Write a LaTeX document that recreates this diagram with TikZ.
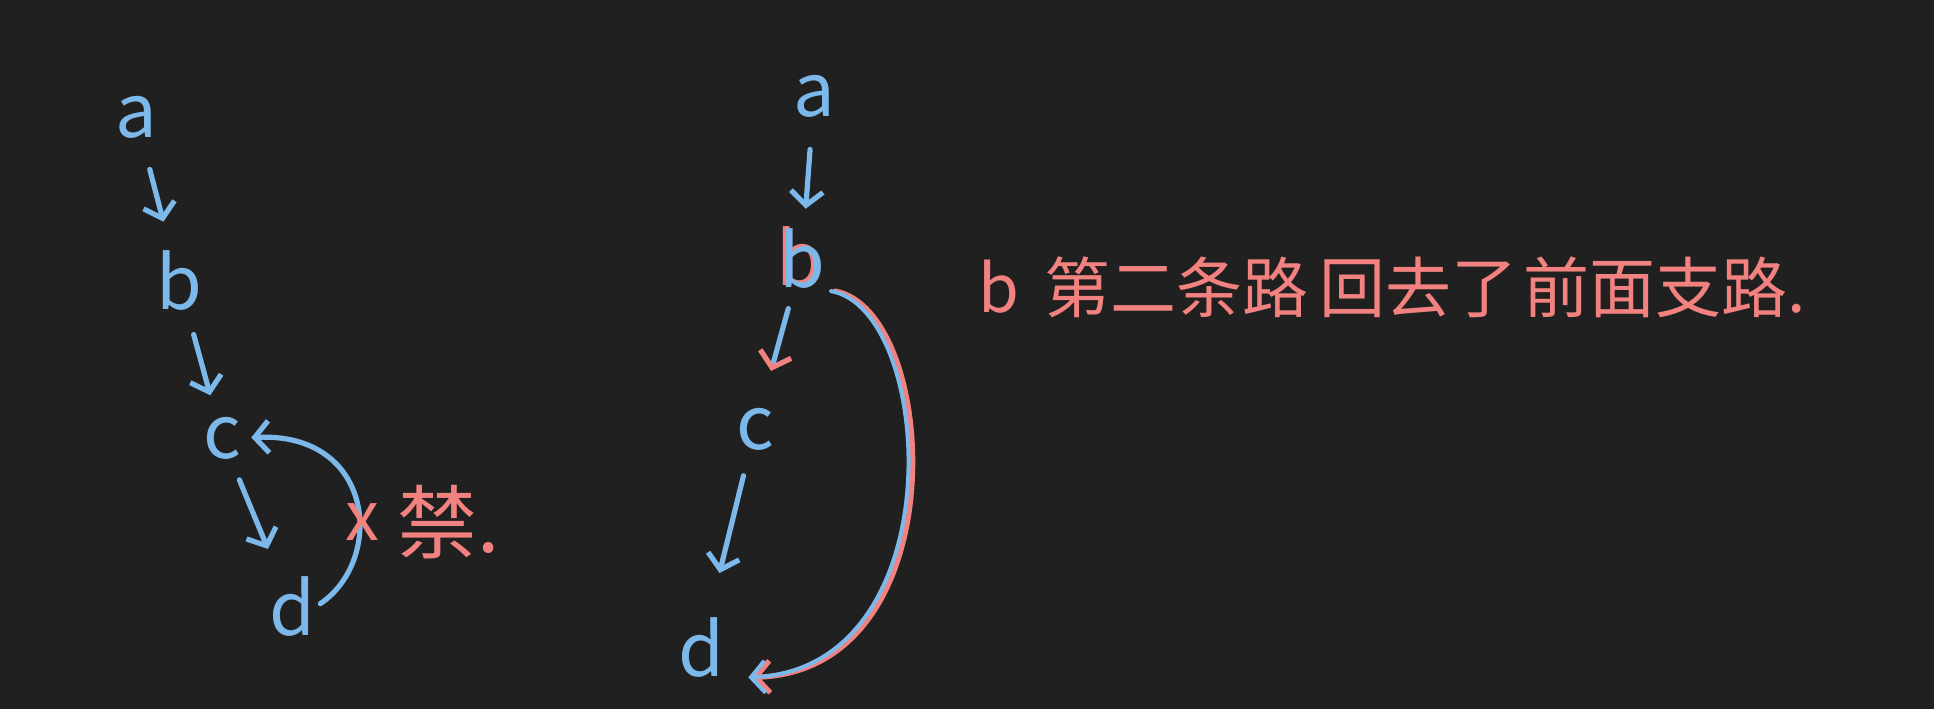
\documentclass[tikz,border=0pt]{standalone}
\usepackage{fontspec}
\usepackage{tikz}
\usetikzlibrary{arrows.meta,positioning}
\newfontfamily\hand{Noto Sans CJK SC}
\definecolor{board}{RGB}{33,32,32}
\definecolor{penblue}{RGB}{125,184,234}
\definecolor{penred}{RGB}{242,130,128}
\tikzset{
  letter/.style={text=penblue, font=\hand\fontsize{37}{42}\selectfont, inner sep=0pt},
  redletter/.style={letter, text=penred},
  note/.style={text=penred, font=\hand\fontsize{33}{38}\selectfont, inner sep=0pt},
  flow/.style={draw=penblue, line width=2.6pt, line cap=round, line join=round, -{Straight Barb[length=7pt,width=16pt]}},
  redflow/.style={flow, draw=penred}
}

\begin{document}
\begin{tikzpicture}[x=0.5pt, y=-0.5pt]
\fill[board] (0,0) rectangle (1934,709);
\useasboundingbox (0,0) rectangle (1934,709);

% left chain, d back to c
\node[letter] (la) at (136,117) {a};
\node[letter] (lb) at (179,281) {b};
\node[letter] (lc) at (222,438) {c};
\node[letter] (ld) at (292,607) {d};
\draw[flow, shorten <=16pt, shorten >=15pt] (la) -- (lb);
\draw[flow, shorten <=12pt, shorten >=11pt] (lb) -- (lc);
\draw[flow, shorten <=11pt, shorten >=15pt] (lc) -- (ld);
\draw[flow, shorten <=3pt, shorten >=5pt] (ld.east) .. controls (385,560) and (375,432) .. (lc.east);
\node[note, font=\hand\fontsize{34}{38}\selectfont] (cross) at (362,522) {x};
\node[note, font=\hand\fontsize{40}{44}\selectfont, right=9pt of cross] (ban) {禁.};

% right chain, b straight to d
\node[letter] (ra) at (814,96) {a};
\node[redletter] (rbred) at (799,257) {b};
\node[letter] (rb) at (802,259) {b};
\node[letter] (rc) at (755,429) {c};
\node[letter] (rd) at (701,648) {d};
\draw[flow, shorten <=16pt, shorten >=10pt] (ra) -- (rb);
\draw[flow, -{Straight Barb[length=7pt,width=16pt,color=penred]}, shorten <=10pt, shorten >=19pt] (rb) -- (rc);
\draw[flow, shorten <=13pt, shorten >=23pt] (rc) -- (rd);
\draw[redflow, shorten <=5pt, shorten >=14pt] (rb.south east) .. controls (940,310) and (960,670) .. (rd.south east);
\draw[flow, line width=2pt, transform canvas={xshift=-2pt}, shorten <=5pt, shorten >=14pt] (rb.south east) .. controls (940,310) and (960,670) .. (rd.south east);

% note
\node[note] (nb) at (999,287) {b};
\node[note, right=12pt of nb] (road) {第二条路};
\node[note, right=5pt of road] (back) {回去了};
\node[note, right=3pt of back] (branch) {前面支路.};
\end{tikzpicture}
\end{document}
